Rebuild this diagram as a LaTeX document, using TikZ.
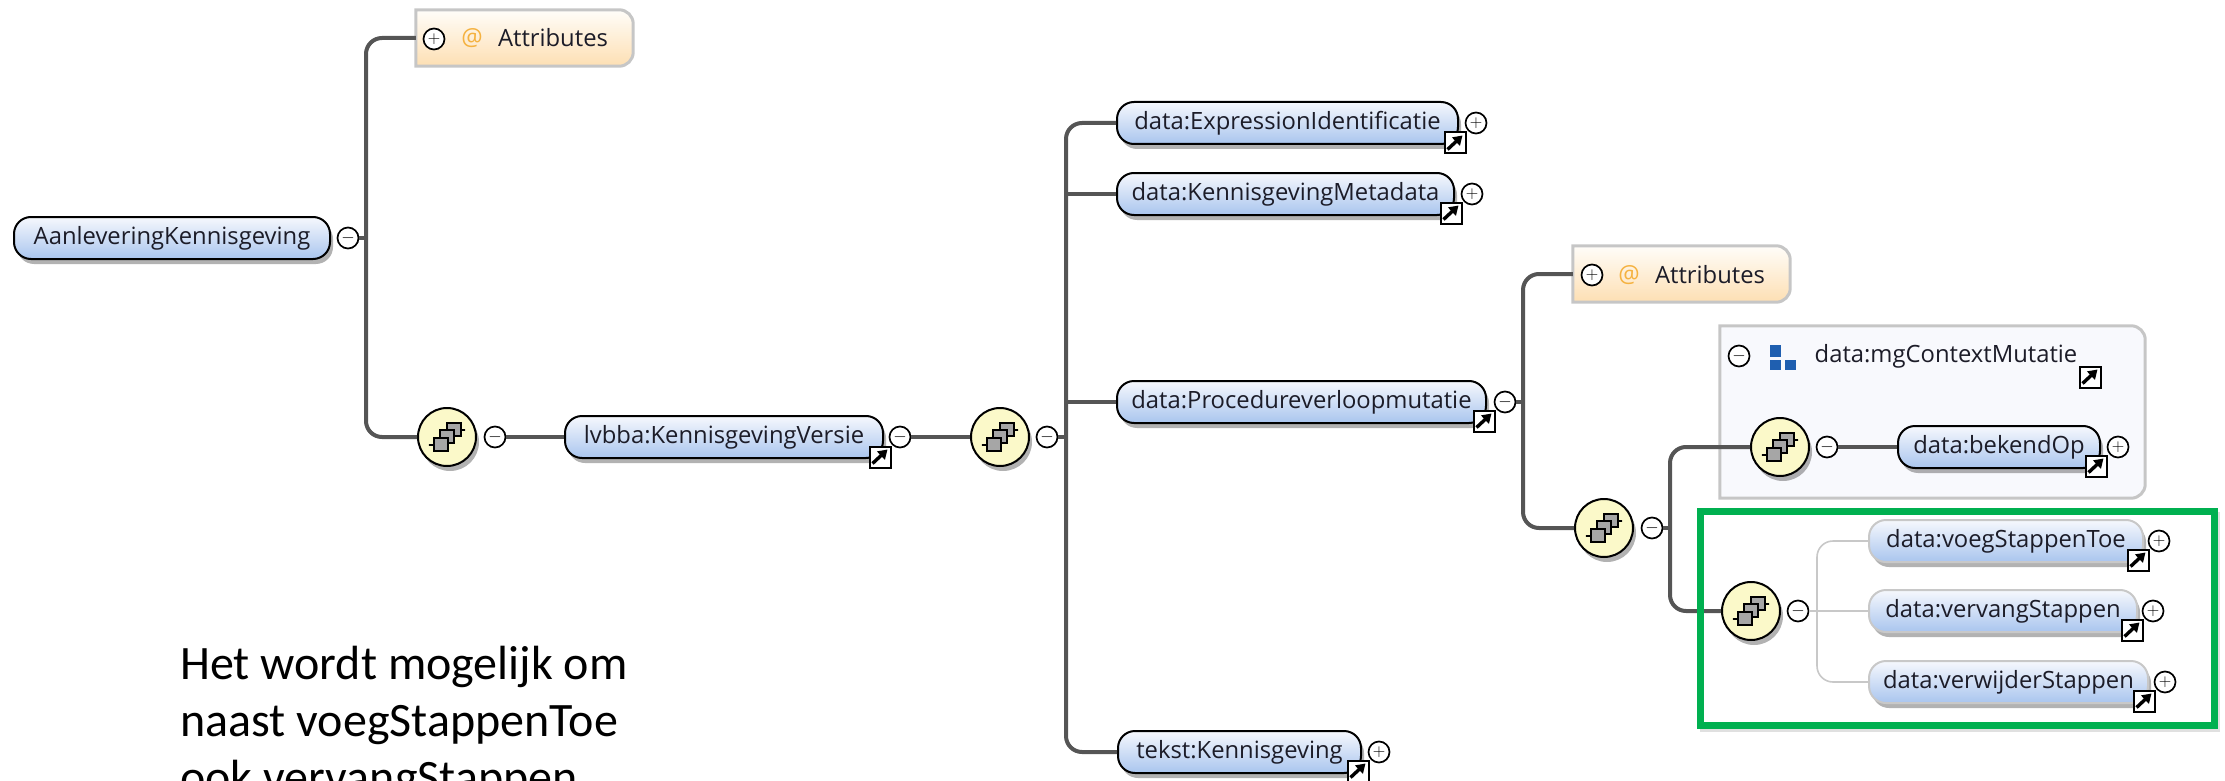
\documentclass[tikz,border=0pt]{standalone}
\usepackage{fontspec}
\setmainfont{Open Sans}
\newfontfamily\notefont{Carlito}
\usetikzlibrary{shadows,arrows.meta}

\definecolor{pilltop}{HTML}{F6F8FD}
\definecolor{pillbottom}{HTML}{A9C5EE}
\definecolor{attrtop}{HTML}{FFFDF9}
\definecolor{attrbottom}{HTML}{FDDFB3}
\definecolor{panelfill}{HTML}{F8F9FD}
\definecolor{framegray}{HTML}{C6C6C6}
\definecolor{seqfill}{HTML}{FBF9C9}
\definecolor{edgegray}{HTML}{555555}
\definecolor{lightedge}{HTML}{C8C8C8}
\definecolor{markgreen}{HTML}{00B050}
\definecolor{atorange}{HTML}{F5B240}
\definecolor{groupblue}{HTML}{1F5FB0}
\definecolor{inkblack}{HTML}{1C1C28}

\tikzset{
    softshadow/.style={drop shadow={shadow xshift=3pt, shadow yshift=-5pt, opacity=.3, fill=black}},
    pill/.style={rectangle, rounded corners=17pt, draw=black, line width=2pt, top color=pilltop, bottom color=pillbottom,
        minimum height=42, inner sep=0pt, text=inkblack, font=\fontsize{23.8}{28}\selectfont, softshadow},
    lightpill/.style={pill, draw=lightedge},
    seq/.style={circle, draw=black, line width=2pt, fill=seqfill, minimum size=58, inner sep=0pt, softshadow,
        path picture={
            \begin{scope}[shift={(path picture bounding box.center)}, line width=1.3pt]
                \draw[line width=2pt] (-21,8) -- (-12,8);
                \draw[line width=2pt] (13,-7) -- (21,-7);
                \fill (-21,8) circle (3);
                \fill (21,-7) circle (3);
                \draw[fill=gray!70] (0,-14) rectangle (14,-1);
                \draw[fill=gray!70] (-7,-7) rectangle (7,6);
                \draw[fill=gray!70] (-13,1) rectangle (1,14);
            \end{scope}}},
    toggle/.style={circle, draw=black, line width=1.7pt, fill=white, minimum size=21, inner sep=0pt, text=black,
        font=\fontsize{17}{17}\selectfont},
    extlink/.style={rectangle, draw=black, line width=2pt, fill=white, minimum size=21, inner sep=0pt,
        path picture={
            \draw[line width=3.4pt, -{Triangle[length=9pt, width=11pt]}]
                ([shift={(3pt,4pt)}]path picture bounding box.south west)
                -- ([shift={(-3pt,-3pt)}]path picture bounding box.north east);}},
    tabframe/.style={draw=framegray, line width=3pt},
    edge/.style={draw=edgegray, line width=4pt, rounded corners=16pt},
    lightline/.style={draw=lightedge, line width=1.6pt, rounded corners=16pt},
    label/.style={inner sep=0pt, text=inkblack, font=\fontsize{23.8}{28}\selectfont},
    atsign/.style={inner sep=0pt, text=atorange, font=\fontsize{23.8}{28}\selectfont},
}

\begin{document}
\begin{tikzpicture}[x=1pt, y=-1pt]
        \useasboundingbox (0,0) rectangle (2225,781);

        % Attribute boxes and the group panel
        \node (attr1) [minimum width=217, minimum height=56, inner sep=0pt] at (524.5, 38) {};
        \draw[tabframe, top color=attrtop, bottom color=attrbottom] (attr1.north west) [rounded corners=14pt] -- (attr1.north east) -- (attr1.south east) [sharp corners] -- (attr1.south west) -- cycle;
        \node (attr2) [minimum width=217, minimum height=56, inner sep=0pt] at (1681.5, 274) {};
        \draw[tabframe, top color=attrtop, bottom color=attrbottom] (attr2.north west) [rounded corners=14pt] -- (attr2.north east) -- (attr2.south east) [sharp corners] -- (attr2.south west) -- cycle;
        \node (group) [minimum width=425, minimum height=172, inner sep=0pt] at (1932.5, 412) {};
        \draw[tabframe, fill=panelfill] (group.north west) [rounded corners=14pt] -- (group.north east) -- (group.south east) [sharp corners] -- (group.south west) -- cycle;
        \shade[left color=panelfill, middle color=gray!65, right color=panelfill] (1731, 392.5) rectangle (2045, 396);
        \fill[groupblue] (1770, 345) rectangle (1781, 357);
        \fill[groupblue] (1770, 360) rectangle (1781, 370);
        \fill[groupblue] (1785, 360) rectangle (1796, 370);

        % Nodes
        \node (root) [pill, minimum width=316] at (172, 238) {AanleveringKennisgeving};
        \node (versie) [pill, minimum width=318] at (724, 437) {lvbba:KennisgevingVersie};
        \node (expr) [pill, minimum width=341] at (1287.5, 123) {data:ExpressionIdentificatie};
        \node (meta) [pill, minimum width=337] at (1285.5, 194) {data:KennisgevingMetadata};
        \node (proc) [pill, minimum width=369] at (1301.5, 402) {data:Procedureverloopmutatie};
        \node (tekst) [pill, minimum width=243] at (1239.5, 752) {tekst:Kennisgeving};
        \node (bekend) [pill, minimum width=202] at (1999, 447) {data:bekendOp};
        \node (voeg) [lightpill, minimum width=274] at (2006, 541) {data:voegStappenToe};
        \node (vervang) [lightpill, minimum width=268] at (2003, 611) {data:vervangStappen};
        \node (verwijder) [lightpill, minimum width=279] at (2008.5, 682) {data:verwijderStappen};

        \node (seq1) [seq] at (447, 437) {};
        \node (seq2) [seq] at (1000, 437) {};
        \node (seq3) [seq] at (1604, 528) {};
        \node (seq4) [seq] at (1780, 447) {};
        \node (seq5) [seq] at (1751, 611) {};

        % Toggles
        \node (trootm) [toggle] at (348, 238) {$-$};
        \node (tseq1) [toggle] at (495, 437) {$-$};
        \node (tversie) [toggle] at (900, 437) {$-$};
        \node (tseq2) [toggle] at (1047, 437) {$-$};
        \node (tproc) [toggle] at (1505, 402) {$-$};
        \node (tseq3) [toggle] at (1652, 528) {$-$};
        \node (tseq4) [toggle] at (1827, 447) {$-$};
        \node (tseq5) [toggle] at (1798, 611) {$-$};
        \node (tgroup) [toggle] at (1739, 356) {$-$};
        \node (tattr1) [toggle] at (434, 39) {$+$};
        \node (tattr2) [toggle] at (1592, 275) {$+$};
        \node (texpr) [toggle] at (1476, 123) {$+$};
        \node (tmeta) [toggle] at (1472, 194) {$+$};
        \node (ttekst) [toggle] at (1379, 752) {$+$};
        \node (tbekend) [toggle] at (2118, 447) {$+$};
        \node (tvoeg) [toggle] at (2159, 541) {$+$};
        \node (tvervang) [toggle] at (2153, 611) {$+$};
        \node (tverwijder) [toggle] at (2165, 682) {$+$};

        % Links
        \node (xversie) [extlink] at (880, 457) {};
        \node (xexpr) [extlink] at (1455, 143) {};
        \node (xmeta) [extlink] at (1451, 213) {};
        \node (xproc) [extlink] at (1484, 421) {};
        \node (xtekst) [extlink] at (1358, 771) {};
        \node (xgroup) [extlink] at (2090, 377) {};
        \node (xbekend) [extlink] at (2096, 466) {};
        \node (xvoeg) [extlink] at (2138, 560) {};
        \node (xvervang) [extlink] at (2132, 630) {};
        \node (xverwijder) [extlink] at (2144, 701) {};

        % Labels
        \node (at1) [atsign] at (472, 38) {@};
        \node (lattr1) [label] at (553, 38) {Attributes};
        \node (at2) [atsign] at (1629, 275) {@};
        \node (lattr2) [label] at (1710, 275) {Attributes};
        \node (lgroup) [label] at (1946, 356) {data:mgContextMutatie};

        % Edges
        \coordinate (t1) at (366, 238);
        \coordinate (t2) at (1066, 437);
        \coordinate (t3) at (1523, 402);
        \coordinate (t4) at (1670, 528);
        \coordinate (t5) at (1817, 611);
        \draw[edge] (trootm) -- (t1);
        \draw[edge] (attr1.west) -| (t1) |- (seq1.west);
        \draw[edge] (tseq1) -- (versie);
        \draw[edge] (tversie) -- (seq2);
        \draw[edge] (tseq2) -- (t2);
        \draw[edge] (expr.west) -| (t2) |- (tekst.west);
        \draw[edge] (meta.west) -- (meta.west -| t2);
        \draw[edge] (proc.west) -- (proc.west -| t2);
        \draw[edge] (tproc) -- (t3);
        \draw[edge] (attr2.west) -| (t3) |- (seq3.west);
        \draw[edge] (tseq3) -- (t4);
        \draw[edge] (seq4.west) -| (t4) |- (seq5.west);
        \draw[edge] (tseq4) -- (bekend);
        \draw[lightline] (tseq5) -- (vervang);
        \draw[lightline] (voeg.west) -| (t5) |- (verwijder.west);

        % Selection and note
        \node (markshadow) [minimum width=517, minimum height=217, inner sep=0pt] at (1959, 621) {};
        \draw[black!12, line width=5pt] (markshadow.south west) -| (markshadow.north east);
        \node (mark) [draw=markgreen, line width=7pt, minimum width=514, minimum height=214, inner sep=0pt] at (1957, 618) {};
        \node (note) [anchor=north west, align=left, inner sep=0pt, text=black, font=\notefont\fontsize{48}{57}\selectfont] at (180, 646) {Het wordt mogelijk om\\naast voegStappenToe\\ook vervangStappen};

    \end{tikzpicture}
\end{document}
